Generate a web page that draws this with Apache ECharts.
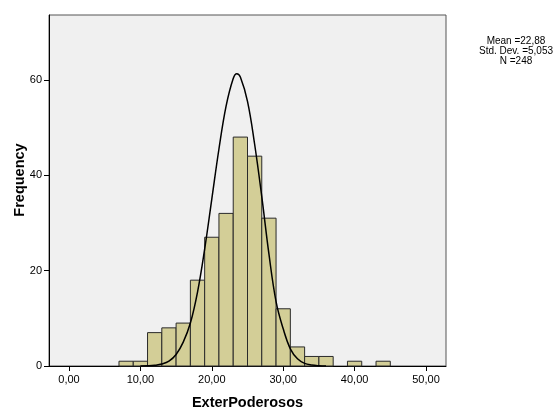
<!DOCTYPE html>
<html>
<head>
<meta charset="utf-8">
<script src="https://cdn.jsdelivr.net/npm/echarts@6/dist/echarts.min.js"></script>
<style>html,body{margin:0;padding:0;background:#fff;}#c{width:554px;height:410px;}</style>
</head>
<body>
<div id="c"></div>
<script>
const binStarts = [7, 9, 11, 13, 15, 17, 19, 21, 23, 25, 27, 29, 31, 33, 35, 37, 39, 41, 43];
const binWidth = 2;
const counts = [1, 1, 7, 8, 9, 18, 27, 32, 48, 44, 31, 12, 4, 2, 2, 0, 1, 0, 1];
const curveX = [10, 11, 12, 13, 14, 15, 16, 17, 18, 19, 20, 21, 22, 23, 23.5, 24, 25, 26, 27, 28, 29, 30, 31, 32, 33, 34, 35, 36];
const curveY = [0.02, 0.05, 0.15, 0.4, 1.0, 2.4, 5.0, 9.0, 15.5, 24.5, 35, 45.5, 54.5, 60.3, 61.3, 60.6, 55.5, 46.5, 35.5, 23.5, 13.5, 7.8, 3.6, 1.5, 0.55, 0.2, 0.06, 0.02];
const xTicks = [0, 10, 20, 30, 40, 50];
const yTicks = [0, 20, 40, 60];
const statsLines = ['Mean =22,88', 'Std. Dev. =5,053', 'N =248'];

const FONT = '"Liberation Sans", Arial, sans-serif';
const chart = echarts.init(document.getElementById('c'), null, {renderer: 'canvas'});

const barData = binStarts.map((s, i) => [s, s + binWidth, counts[i]]);
const lineData = curveX.map((x, i) => [x, curveY[i]]);

chart.setOption({
  animation: false,
  backgroundColor: '#ffffff',
  grid: {
    left: 49, right: 108, top: 15, bottom: 44,
    outerBoundsMode: 'none', containLabel: false,
    show: true, backgroundColor: '#f0f0f0', borderColor: '#555555', borderWidth: 1
  },
  xAxis: {
    type: 'value', min: -2.8, max: 52.8,
    splitLine: {show: false},
    axisLine: {show: true, onZero: false, lineStyle: {color: '#000', width: 1}},
    axisTick: {show: true, customValues: xTicks, length: 5, lineStyle: {color: '#000'}},
    axisLabel: {
      customValues: xTicks, margin: 8, color: '#000', fontSize: 11, fontFamily: FONT,
      formatter: v => v.toFixed(2).replace('.', ',')
    },
    name: 'ExterPoderosos', nameLocation: 'middle', nameGap: 29,
    nameTextStyle: {fontSize: 14.5, fontWeight: 'bold', color: '#000', fontFamily: FONT}
  },
  yAxis: {
    type: 'value', min: 0, max: 73.6,
    splitLine: {show: false},
    axisLine: {show: true, onZero: false, lineStyle: {color: '#000', width: 1}},
    axisTick: {show: true, customValues: yTicks, length: 5, lineStyle: {color: '#000'}},
    axisLabel: {customValues: yTicks, margin: 7, color: '#000', fontSize: 11, fontFamily: FONT}
  },
  graphic: [
    {
      type: 'text', x: 20, y: 180, rotation: Math.PI / 2,
      style: {text: 'Frequency', fill: '#000', font: 'bold 14.5px ' + FONT, align: 'center', verticalAlign: 'middle'}
    }
  ].concat(statsLines.map((t, i) => ({
    type: 'text', x: 516, y: 41 + i * 10,
    style: {text: t, fill: '#000', font: '10px ' + FONT, align: 'center', verticalAlign: 'middle'}
  }))),
  series: [
    {
      type: 'custom',
      data: barData,
      encode: {x: [0, 1], y: 2},
      z: 2,
      renderItem: function (params, api) {
        const c = api.value(2);
        if (!c) return null;
        const p0 = api.coord([api.value(0), 0]);
        const p1 = api.coord([api.value(1), c]);
        return {
          type: 'rect',
          shape: {x: p0[0], y: p1[1], width: p1[0] - p0[0], height: p0[1] - p1[1]},
          style: {fill: '#d3ce97', stroke: '#2a2a2a', lineWidth: 1}
        };
      }
    },
    {
      type: 'line',
      data: lineData,
      smooth: 0.4,
      showSymbol: false,
      z: 3,
      lineStyle: {color: '#000', width: 1.5}
    }
  ]
});
</script>
</body>
</html>
